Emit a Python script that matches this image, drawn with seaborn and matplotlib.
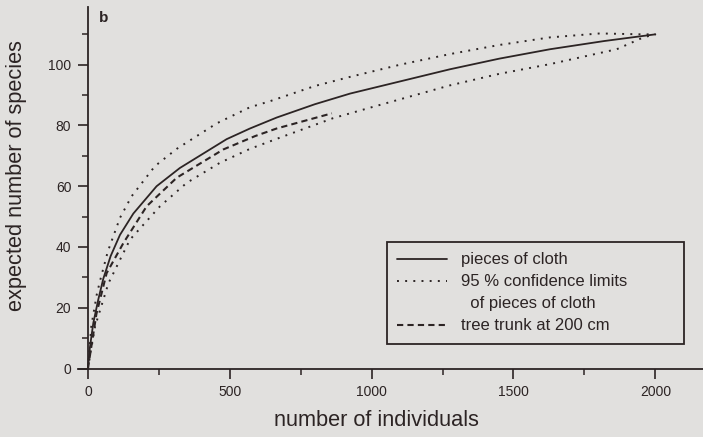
import matplotlib
matplotlib.use("Agg")
import matplotlib.pyplot as plt
from matplotlib.lines import Line2D
from matplotlib.ticker import MultipleLocator
import pandas as pd
import seaborn as sns

# Rarefaction curves: expected number of species vs. number of individuals
cloth_n = [0, 7, 19, 36, 54, 80, 113, 160, 242, 324, 489, 571, 665, 800, 924,
           1100, 1276, 1450, 1629, 1820, 2000]
cloth_s = [0, 7, 15, 22.5, 29.5, 37, 44, 51, 60, 66, 75.5, 79, 82.6, 87, 90.5,
           94.5, 98.5, 102, 105.1, 107.8, 110]

upper_n = [0, 12, 31, 42, 70, 113, 154, 236, 313, 454, 571, 642, 800, 924, 1100,
           1276, 1450, 1629, 1805, 1950, 2000]
upper_s = [0, 14, 24.3, 28.6, 38.5, 49.6, 56.7, 66.6, 72.3, 80.7, 86, 88, 93, 96,
           100, 103.5, 106.5, 109, 110.3, 110, 110]

lower_n = [0, 25, 72, 148, 254, 348, 465, 571, 677, 864, 1000, 1276, 1450, 1629,
           1864, 1958, 2000]
lower_s = [0, 13.8, 28, 42.4, 53.4, 61.1, 67.7, 72.3, 76, 82.4, 86, 93.2, 97,
           100.2, 105.1, 109, 110]

trunk_n = [0, 30, 66, 125, 207, 313, 477, 589, 665, 860]
trunk_s = [0, 18, 31.4, 41.3, 53.4, 62.8, 72.1, 76.5, 79, 84]

legend_labels = ["pieces of cloth", "95 % confidence limits",
                 "  of pieces of cloth", "tree trunk at 200 cm"]

BG = "#e1e0de"
INK = "#2c2424"

sns.set_style("ticks", rc={"axes.facecolor": BG, "figure.facecolor": BG})
plt.rcParams["font.family"] = ["Liberation Sans", "DejaVu Sans"]
plt.rcParams["text.color"] = INK
plt.rcParams["axes.labelcolor"] = INK
plt.rcParams["xtick.color"] = INK
plt.rcParams["ytick.color"] = INK

fig = plt.figure(figsize=(7.03, 4.37), dpi=100)
ax = fig.add_axes([78 / 703, 1 - 368.5 / 437, 625 / 703, 361.5 / 437])

dotted = (0, (1.0, 3.2))
dashed = (0, (3.0, 2.0))

sns.lineplot(data=pd.DataFrame({"n": cloth_n, "s": cloth_s}), x="n", y="s",
             ax=ax, color=INK, lw=1.3, sort=False, estimator=None)
sns.lineplot(data=pd.DataFrame({"n": upper_n, "s": upper_s}), x="n", y="s",
             ax=ax, color=INK, lw=1.4, sort=False, estimator=None)
ax.lines[-1].set_linestyle(dotted)
sns.lineplot(data=pd.DataFrame({"n": lower_n, "s": lower_s}), x="n", y="s",
             ax=ax, color=INK, lw=1.4, sort=False, estimator=None)
ax.lines[-1].set_linestyle(dotted)
sns.lineplot(data=pd.DataFrame({"n": trunk_n, "s": trunk_s}), x="n", y="s",
             ax=ax, color=INK, lw=1.5, sort=False, estimator=None)
ax.lines[-1].set_linestyle(dashed)

ax.set_xlim(-35, 2168)
ax.set_ylim(0, 119)
ax.spines["left"].set_position(("data", 0))
ax.spines["top"].set_visible(False)
ax.spines["right"].set_visible(False)
for side in ("left", "bottom"):
    ax.spines[side].set_linewidth(1.3)
    ax.spines[side].set_color(INK)

ax.xaxis.set_major_locator(MultipleLocator(500))
ax.xaxis.set_minor_locator(MultipleLocator(250))
ax.yaxis.set_major_locator(MultipleLocator(20))
ax.yaxis.set_minor_locator(MultipleLocator(10))
ax.tick_params(which="major", direction="out", length=7, width=1.2,
               labelsize=10, pad=5)
ax.tick_params(which="minor", direction="out", length=4.5, width=1.1)
ax.set_xticks([0, 500, 1000, 1500, 2000])

ax.set_xlabel("number of individuals", fontsize=15.7)
ax.set_ylabel("expected number of species", fontsize=15.7)
ax.xaxis.set_label_coords((376 - 78) / 625, (368.5 - 421) / 361.5)
ax.xaxis.label.set_va("center")
ax.yaxis.set_label_coords((17 - 78) / 625, (368.5 - 176) / 361.5)
ax.yaxis.label.set_va("center")

ax.text((103.5 - 78) / 625, (368.5 - 17.5) / 361.5, "b", transform=ax.transAxes,
        fontsize=11, fontweight="bold", ha="center", va="center")

handles = [
    Line2D([], [], color=INK, lw=1.3),
    Line2D([], [], color=INK, lw=1.4, linestyle=dotted),
    Line2D([], [], color="none", lw=0),
    Line2D([], [], color=INK, lw=1.5, linestyle=dashed),
]
leg = ax.legend(handles, legend_labels, loc="upper left",
                bbox_to_anchor=(387 / 703, 1 - 342 / 437, 297 / 703, 100 / 437),
                bbox_transform=fig.transFigure, mode="expand", borderaxespad=0,
                fontsize=12, handlelength=3.0, handletextpad=0.8,
                labelspacing=0.42, borderpad=0.62, fancybox=False,
                framealpha=1, edgecolor=INK, facecolor=BG)
leg.get_frame().set_linewidth(1.3)

fig.savefig("out.png", dpi=100, facecolor=BG)
